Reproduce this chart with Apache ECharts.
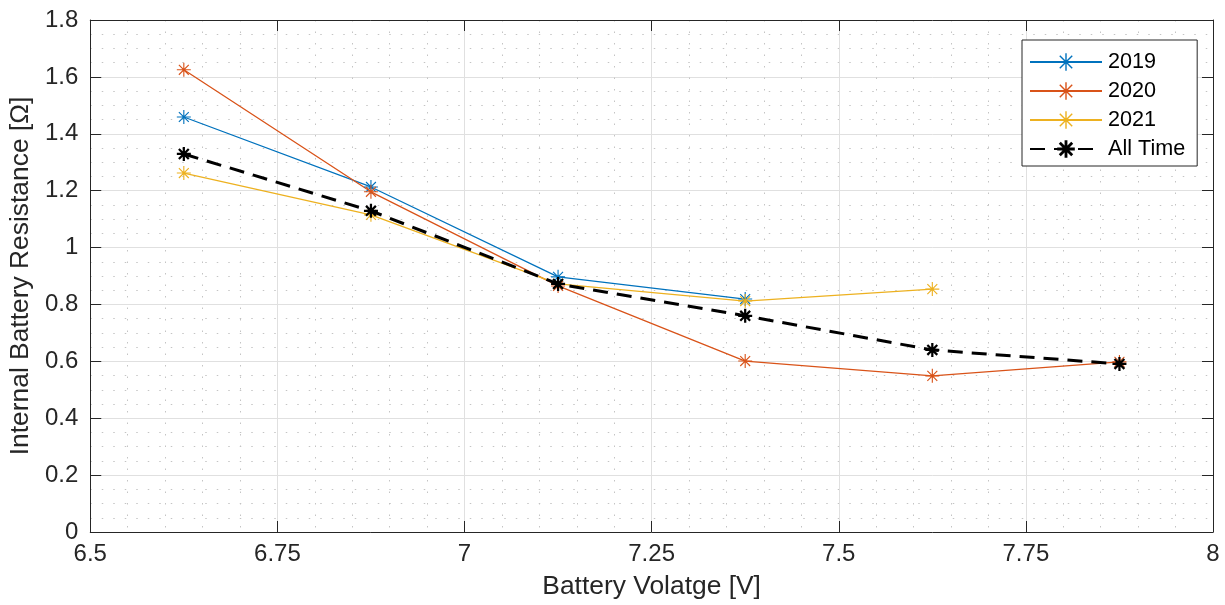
<!DOCTYPE html>
<html>
<head>
<meta charset="utf-8">
<script src="https://cdn.jsdelivr.net/npm/echarts@6/dist/echarts.min.js"></script>
<style>
	html, body { margin: 0; padding: 0; background: #fff; }
	#chart { width: 1225px; height: 605px; }
</style>
</head>
<body>
<div id="chart"></div>
<script>
// battery voltage bins (x)
var voltages = [6.625, 6.875, 7.125, 7.375, 7.625, 7.875];
var xTicks = [6.5, 6.75, 7, 7.25, 7.5, 7.75, 8];

// internal resistance per year, null where no data
var r2019 = [1.459, 1.213, 0.897, 0.819, null, null];
var r2020 = [1.625, 1.196, 0.865, 0.601, 0.549, 0.598];
var r2021 = [1.262, 1.115, 0.872, 0.812, 0.854, null];
var rAll = [1.329, 1.129, 0.872, 0.760, 0.640, 0.591];

var seriesNames = ['2019', '2020', '2021', 'All Time'];

// matlab-like asterisk marker, thin and bold versions
var starThin = 'path://M0 9.2L20 9.2L20 10.8L0 10.8Z' +
	'M9.2 0L10.8 0L10.8 20L9.2 20Z' +
	'M2.36 3.5L3.5 2.36L17.64 16.5L16.5 17.64Z' +
	'M2.36 16.5L16.5 2.36L17.64 3.5L3.5 17.64Z';
var starBold = 'path://M0 8.4L20 8.4L20 11.6L0 11.6Z' +
	'M8.4 0L11.6 0L11.6 20L8.4 20Z' +
	'M1.8 4.06L4.06 1.8L18.2 15.94L15.94 18.2Z' +
	'M1.8 15.94L15.94 1.8L18.2 4.06L4.06 18.2Z';

function toPairs(vals) {
	var out = [];
	for (var i = 0; i < voltages.length; i++) {
		if (vals[i] !== null) out.push([voltages[i], vals[i]]);
	}
	return out;
}

var textColor = '#262626';
var font = 'Liberation Sans, Arial, Helvetica, sans-serif';

function lineSeries(name, vals, color, bold) {
	return {
		name: name,
		type: 'line',
		data: toPairs(vals),
		symbol: bold ? starBold : starThin,
		symbolSize: 14,
		showSymbol: true,
		itemStyle: { color: color },
		lineStyle: bold ? { color: color, width: 3, type: [15, 9] } : { color: color, width: 1.3 },
		emphasis: { disabled: true },
		animation: false,
		z: bold ? 5 : 3
	};
}

var chart = echarts.init(document.getElementById('chart'));

var baseX = {
	type: 'value',
	min: 6.5,
	max: 8,
	interval: 0.25,
	axisLine: { show: true, onZero: false, lineStyle: { color: textColor, width: 1 } },
	axisTick: { show: true, inside: true, length: 11, lineStyle: { color: textColor } },
	splitLine: { show: true, lineStyle: { color: '#e0e0e0', width: 1 } },
	minorTick: { show: false, splitNumber: 5 },
	minorSplitLine: { show: true, lineStyle: { color: '#c4c4c4', width: 1, type: [1.5, 10] } }
};
var baseY = {
	type: 'value',
	min: 0,
	max: 1.8,
	interval: 0.2,
	axisLine: { show: true, onZero: false, lineStyle: { color: textColor, width: 1 } },
	axisTick: { show: true, inside: true, length: 11, lineStyle: { color: textColor } },
	splitLine: { show: true, lineStyle: { color: '#e0e0e0', width: 1 } },
	minorTick: { show: false, splitNumber: 4 },
	minorSplitLine: { show: true, lineStyle: { color: '#c4c4c4', width: 1, type: [1.5, 10] } }
};

var option = {
	backgroundColor: '#fff',
	textStyle: { fontFamily: font, color: textColor },
	grid: { left: 90, right: 12, top: 20, bottom: 73, containLabel: false },
	legend: {
		data: seriesNames,
		orient: 'vertical',
		left: 1022,
		top: 40,
		padding: [11, 12, 6, 7],
		itemWidth: 72,
		itemHeight: 22,
		itemGap: 7,
		backgroundColor: '#fff',
		borderColor: textColor,
		borderWidth: 1,
		borderRadius: 0,
		textStyle: { fontSize: 21.6, color: '#000', fontFamily: font, padding: [0, 0, 0, 1] },
		selectedMode: false
	},
	xAxis: [
		Object.assign({}, baseX, {
			position: 'bottom',
			name: 'Battery Volatge [V]',
			nameLocation: 'middle',
			nameGap: 42,
			nameTextStyle: { fontSize: 26.4, color: textColor, fontFamily: font },
			axisLabel: {
				fontSize: 24, color: textColor, margin: 10, fontFamily: font,
				customValues: xTicks,
				formatter: function(v) { return String(+v.toFixed(2)); }
			}
		}),
		Object.assign({}, baseX, {
			position: 'top',
			splitLine: { show: false },
			minorSplitLine: { show: false },
			axisLabel: { show: false }
		})
	],
	yAxis: [
		Object.assign({}, baseY, {
			position: 'left',
			name: 'Internal Battery Resistance [Ω]',
			nameLocation: 'middle',
			nameGap: 50,
			nameTextStyle: { fontSize: 26.4, color: textColor, fontFamily: font },
			axisLabel: {
				fontSize: 24, color: textColor, margin: 12, fontFamily: font,
				formatter: function(v) { return String(+v.toFixed(1)); }
			}
		}),
		Object.assign({}, baseY, {
			position: 'right',
			splitLine: { show: false },
			minorSplitLine: { show: false },
			axisLabel: { show: false }
		})
	],
	series: [
		lineSeries('2019', r2019, '#0072BD', false),
		lineSeries('2020', r2020, '#D95319', false),
		lineSeries('2021', r2021, '#EDB120', false),
		lineSeries('All Time', rAll, '#000000', true)
	]
};

chart.setOption(option);
</script>
</body>
</html>
